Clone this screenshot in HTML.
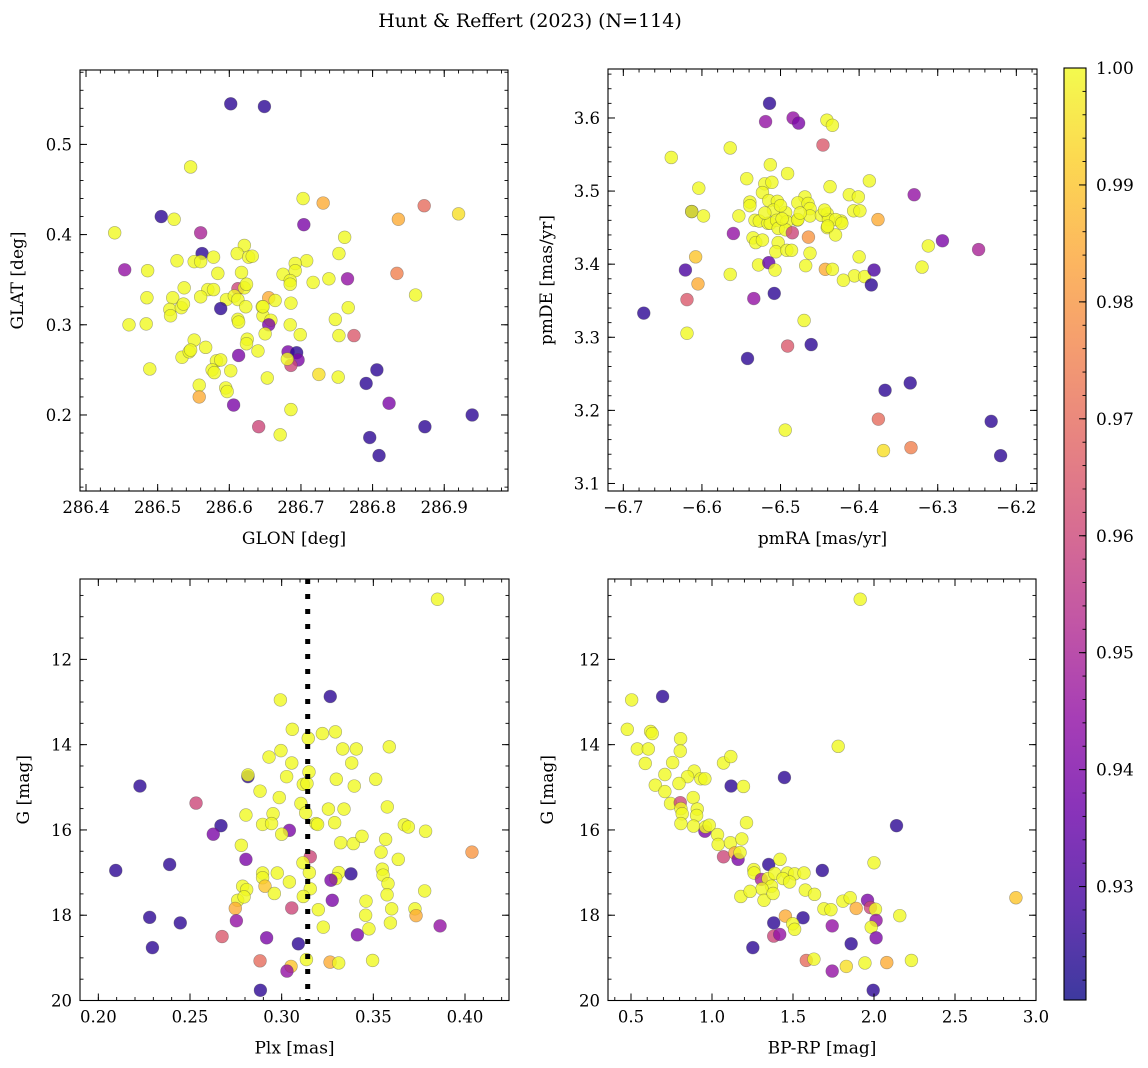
<!DOCTYPE html>
<html><head><meta charset="utf-8"><title>Hunt & Reffert (2023)</title>
<style>
html,body{margin:0;padding:0;background:#fff;}
svg{display:block;font-family:"DejaVu Serif","Liberation Serif",serif;}
</style></head>
<body>
<svg id="fig" width="1148" height="1068" viewBox="0 0 1148 1068" xmlns="http://www.w3.org/2000/svg">
<defs>
<linearGradient id="plasma" x1="0" y1="1" x2="0" y2="0">
<stop offset="0" stop-color="#0d0887"/><stop offset="0.1" stop-color="#41049d"/><stop offset="0.2" stop-color="#6a00a8"/><stop offset="0.3" stop-color="#8f0da4"/><stop offset="0.4" stop-color="#b12a90"/><stop offset="0.5" stop-color="#cc4778"/><stop offset="0.6" stop-color="#e16462"/><stop offset="0.7" stop-color="#f2844b"/><stop offset="0.8" stop-color="#fca636"/><stop offset="0.9" stop-color="#fcce25"/><stop offset="1" stop-color="#f0f921"/>
</linearGradient>
</defs>
<text x="530" y="27" text-anchor="middle" font-size="19" fill="#000">Hunt &amp; Reffert (2023) (N=114)</text>
</svg>
<script>
// ---- Panel 1: GLON vs GLAT ----
const glon1=[286.602,286.649,286.546,286.703,286.731,286.872,286.920,286.836,286.505,286.523,
286.704,286.440,286.560,286.761,286.621,286.562,286.611,286.627,286.632,286.753,
286.578,286.527,286.551,286.560,286.708,286.692,286.454,286.486,286.584,286.617,
286.675,286.692,286.834,286.765,286.739,286.717,286.685,286.685,286.537,286.612,
286.621,286.624,286.570,286.578,286.485,286.521,286.560,286.596,286.607,286.612,
286.655,286.664,286.686,286.860,286.517,286.533,286.536,286.588,286.623,286.646,
286.766,286.518,286.647,286.658,286.612,286.613,286.460,286.484,286.655,286.685,
286.748,286.650,286.699,286.753,286.774,286.551,286.567,286.625,286.624,286.640,
286.534,286.544,286.546,286.613,286.682,286.694,286.696,286.686,286.681,286.582,
286.588,286.576,286.579,286.602,286.489,286.653,286.725,286.752,286.806,286.791,
286.558,286.595,286.597,286.558,286.606,286.823,286.686,286.939,286.641,286.873,
286.671,286.796,286.809,286.647];
const glat1=[.545,.542,.475,.440,.435,.432,.423,.417,.420,.417,
.411,.402,.402,.397,.388,.379,.379,.375,.376,.379,
.375,.371,.370,.370,.371,.368,.361,.360,.357,.358,
.356,.360,.357,.351,.351,.347,.349,.345,.341,.340,
.341,.345,.339,.339,.330,.330,.331,.328,.332,.328,
.330,.327,.324,.333,.317,.319,.323,.318,.320,.320,
.319,.310,.310,.305,.306,.303,.300,.301,.300,.300,
.306,.290,.289,.288,.288,.283,.275,.284,.279,.271,
.264,.270,.272,.266,.270,.269,.261,.255,.262,.260,
.261,.250,.247,.249,.251,.241,.245,.242,.250,.235,
.233,.230,.226,.220,.211,.213,.206,.200,.187,.187,
.178,.175,.155,.320];
const prob1=[.925,.925,1,1,.985,.97,.995,.985,.925,1,
.94,1,.95,1,1,.925,1,1,1,1,
1,1,1,1,1,1,.945,1,1,1,
1,1,.975,.945,1,1,1,1,1,.96,
1,1,1,1,1,1,1,1,1,1,
.985,1,1,1,1,1,1,.925,1,1,
1,1,1,1,1,1,1,1,.94,1,
1,1,1,1,.965,1,1,1,1,1,
1,1,1,.94,.94,.925,.94,.96,1,1,
1,1,1,1,1,1,.995,1,.925,.925,
1,1,1,.985,.94,.94,1,.925,.96,.925,
1,.925,.925,1];
const xticks1=["286.4","286.5","286.6","286.7","286.8","286.9"];
const yticks1=["0.2","0.3","0.4","0.5"];

// ---- Panel 2: pmRA vs pmDE ----
const pmra2=[-6.514,-6.519,-6.484,-6.477,-6.441,-6.434,-6.446,-6.639,-6.564,-6.513,
-6.491,-6.543,-6.520,-6.511,-6.387,-6.604,-6.437,-6.330,-6.523,-6.539,
-6.539,-6.515,-6.504,-6.509,-6.469,-6.478,-6.465,-6.4625,-6.4125,-6.401,
-6.407,-6.399,-6.613,-6.613,-6.598,-6.553,-6.4935,-6.4785,-6.4625,-6.448,-6.4405,
-6.439,-6.5325,-6.527,-6.516,-6.513,-6.505,-6.492,-6.478,-6.423,-6.430,
-6.422,-6.376,-6.503,-6.4935,-6.485,-6.4405,-6.430,-6.560,-6.535,-6.5315,
-6.523,-6.503,-6.4645,-6.506,-6.492,-6.486,-6.4625,-6.312,-6.294,-6.248,
-6.608,-6.528,-6.515,-6.507,-6.468,-6.443,-6.434,-6.400,-6.406,-6.420,
-6.393,-6.381,-6.3845,-6.320,-6.621,-6.564,-6.605,-6.619,-6.534,-6.508,
-6.674,-6.619,-6.470,-6.491,-6.461,-6.542,-6.335,-6.367,-6.3755,-6.232,
-6.494,-6.369,-6.334,-6.220,
-6.498,-6.475,-6.444,-6.440,-6.500,-6.520];
const pmde2=[3.620,3.595,3.600,3.593,3.597,3.590,3.563,3.546,3.559,3.536,
3.524,3.517,3.510,3.512,3.514,3.504,3.506,3.495,3.498,3.485,
3.480,3.487,3.486,3.474,3.492,3.484,3.483,3.476,3.495,3.492,
3.473,3.473,3.472,3.472,3.466,3.466,3.4705,3.4605,3.466,3.467,3.469,
3.461,3.460,3.459,3.456,3.456,3.460,3.458,3.461,3.459,3.461,
3.456,3.461,3.449,3.447,3.443,3.450,3.440,3.442,3.436,3.4295,
3.433,3.4295,3.437,3.417,3.419,3.419,3.415,3.425,3.432,3.420,
3.410,3.399,3.402,3.392,3.398,3.393,3.393,3.410,3.384,3.378,
3.383,3.392,3.3716,3.396,3.392,3.386,3.373,3.3515,3.353,3.360,
3.333,3.3055,3.323,3.288,3.290,3.271,3.2375,3.2275,3.188,3.185,
3.173,3.145,3.149,3.138,
3.462,3.470,3.474,3.452,3.480,3.470];
const prob2=[.925,.945,.945,.94,1,1,.965,1,1,1,
1,1,1,1,1,1,1,.945,1,1,
1,1,1,1,1,1,1,1,1,1,
1,1,.925,1,1,1,1,1,1,1,1,
1,1,1,1,1,1,1,1,1,1,
1,.985,1,1,.96,1,1,.945,1,1,
1,1,.98,1,1,1,1,1,.94,.95,
.99,1,.935,1,1,.985,1,1,1,1,
1,.93,.925,1,.93,1,.985,.965,.945,.925,
.925,1,1,.965,.925,.925,.925,.925,.97,.925,
1,.995,.975,.925,
1,1,1,1,1,1];
const xticks2=["−6.7","−6.6","−6.5","−6.4","−6.3","−6.2"];
const yticks2=["3.1","3.2","3.3","3.4","3.5","3.6"];

// ---- Panel 3: Plx vs G ----
const plx3=[.385,.2993,.3265,.3058,.3145,.3222,.3293,.3587,.2931,.2996,
.3333,.3407,.3055,.3382,.2816,.2816,.3027,.3149,.3118,.3138,
.3298,.3513,.3396,.2227,.2882,.2987,.2533,.3105,.3131,.3255,
.3340,.3576,.2805,.2953,.2896,.2945,.3187,.3196,.3289,.2669,
.2627,.3042,.3000,.3669,.3691,.3785,.3322,.3391,.3438,.3567,
.2780,.3542,.3636,.3156,.3116,.2805,.4038,.2095,.2389,.2896,
.2896,.2976,.3151,.3311,.3295,.3269,.3378,.3549,.3553,.3580,
.3042,.2909,.2787,.2809,.2960,.3156,.3118,.3575,.3780,.2760,
.2795,.3276,.3460,.2747,.3055,.3200,.3600,.3727,.3733,.3458,
.3593,.2280,.2447,.2753,.3227,.3476,.3864,.2675,.2918,.3091,
.3413,.2295,.2882,.3051,.3029,.3135,.3264,.3311,.3496,.2884];
const g3=[10.59,12.95,12.87,13.64,13.85,13.74,13.70,14.05,14.29,14.14,
14.10,14.10,14.43,14.43,14.75,14.71,14.75,14.64,14.93,14.91,
14.81,14.81,14.97,14.97,15.09,15.24,15.37,15.38,15.60,15.51,
15.51,15.46,15.65,15.62,15.87,15.85,15.85,15.87,15.83,15.90,
16.10,16.01,16.10,15.88,15.93,16.03,16.30,16.32,16.15,16.22,
16.36,16.52,16.69,16.63,16.77,16.69,16.52,16.95,16.81,17.01,
17.12,17.01,17.00,17.00,17.14,17.18,17.03,16.92,17.06,17.26,
17.22,17.32,17.32,17.40,17.49,17.38,17.56,17.52,17.43,17.65,
17.57,17.65,17.67,17.84,17.83,17.87,17.85,17.85,18.01,18.00,
18.18,18.05,18.18,18.13,18.28,18.32,18.25,18.50,18.53,18.67,
18.46,18.76,19.07,19.20,19.31,19.04,19.10,19.12,19.06,19.76];
const prob3=[1,1,.925,1,1,1,1,1,1,1,
1,1,1,1,.925,1,1,1,1,1,
1,1,1,.925,1,1,.96,1,1,1,
1,1,1,1,1,1,1,1,1,.925,
.94,.94,1,1,1,1,1,1,1,1,
1,1,1,.96,1,.94,.98,.925,.925,1,
1,1,1,1,1,.94,.925,1,1,1,
1,.99,1,1,1,1,1,1,1,1,
1,.94,1,.985,.96,1,1,1,.985,1,
1,.925,.925,.945,1,1,.945,.965,.94,.925,
.94,.925,.97,.99,.945,1,.985,1,1,.925];
const plxRef=[0.3142];
const xticks3=["0.20","0.25","0.30","0.35","0.40"];
const yticksG=["12","14","16","18","20"];

// ---- Panel 4: BP-RP vs G ----
const bprp4=[1.915,0.504,0.695,0.477,0.621,0.631,0.806,0.539,0.607,0.804,
0.588,0.757,1.071,1.116,1.779,0.709,0.890,0.849,0.931,0.956,
0.796,1.447,1.118,1.194,0.650,0.709,0.884,0.744,0.804,0.808,
0.816,0.909,0.905,0.808,0.886,0.956,0.960,0.983,1.034,1.038,
1.213,1.114,1.184,1.071,1.141,1.161,1.173,1.350,1.420,1.681,
2.000,2.139,1.258,1.260,1.305,1.346,1.387,1.465,1.510,1.568,
1.438,1.479,1.367,1.309,1.178,1.235,1.321,1.377,1.576,1.633,
1.808,1.853,1.960,1.978,2.009,1.890,1.691,1.734,2.876,2.159,
1.453,1.562,1.498,1.510,1.381,1.381,1.418,1.742,2.013,1.983,
2.013,1.859,1.252,1.582,1.629,1.742,1.829,1.944,2.079,2.231,
1.995];
const g4=[10.59,12.95,12.87,13.64,13.69,13.74,13.86,14.10,14.10,14.15,
14.44,14.42,14.43,14.28,14.04,14.70,14.62,14.75,14.80,14.80,
14.91,14.77,14.97,14.98,14.95,15.10,15.24,15.38,15.36,15.50,
15.62,15.51,15.66,15.85,15.91,16.03,15.93,15.89,16.11,16.34,
15.83,16.30,16.21,16.63,16.54,16.69,16.53,16.81,16.69,16.95,
16.77,15.90,16.93,17.01,17.16,17.14,17.02,17.01,17.03,17.01,
17.14,17.22,17.32,17.38,17.56,17.44,17.65,17.49,17.41,17.51,
17.67,17.59,17.65,17.82,17.86,17.84,17.85,17.87,17.59,18.01,
18.02,18.06,18.20,18.33,18.18,18.49,18.45,18.25,18.12,18.28,
18.53,18.67,18.76,19.06,19.03,19.31,19.20,19.12,19.11,19.06,
19.76];
const prob4=[1,1,.925,1,1,1,1,1,1,1,
1,1,1,1,1,1,1,1,1,1,
1,.925,.925,1,1,1,1,1,.96,1,
1,1,1,1,1,.94,1,1,1,1,
1,1,1,.96,.985,.94,1,.925,1,.925,
1,.925,1,1,.95,1,1,1,1,1,
1,1,1,1,1,1,1,1,1,1,
1,1,.94,.96,1,.985,1,1,.99,1,
.985,.925,1,1,.925,.96,.945,.945,.945,1,
.94,.925,.925,.97,1,.945,.995,1,.985,1,
.925];
const xticks4=["0.5","1.0","1.5","2.0","2.5","3.0"];
const cbTicks=["0.93","0.94","0.95","0.96","0.97","0.98","0.99","1.00"];

const NS="http://www.w3.org/2000/svg";
const svg=document.getElementById('fig');
const VMIN=0.9203, VMAX=1.0;
const stops=[[13,8,135],[65,4,157],[106,0,168],[143,13,164],[177,42,144],[204,71,120],[225,100,98],[242,132,75],[252,166,54],[252,206,37],[240,249,33]];
function plasma(v){
  let t=(v-VMIN)/(VMAX-VMIN); t=Math.max(0,Math.min(1,t));
  const f=t*10, i=Math.min(9,Math.floor(f)), r=f-i;
  const a=stops[i], b=stops[i+1];
  return 'rgb('+a.map((c,k)=>Math.round(c+(b[k]-c)*r)).join(',')+')';
}
function el(tag,attrs,parent){
  const e=document.createElementNS(NS,tag);
  for(const k in attrs) e.setAttribute(k,attrs[k]);
  (parent||svg).appendChild(e); return e;
}
function scale(d0,d1,p0,p1){return v=>p0+(v-d0)*(p1-p0)/(d1-d0);}

function panel(o){
  const g=el('g',{});
  
  
  const sx=scale(o.xd[0],o.xd[1],o.px[0],o.px[1]);
  const sy=scale(o.yd[0],o.yd[1],o.py[0],o.py[1]);
  const pg=el('g',{},g);
  
  
  const n=Math.min(o.x.length,o.y.length,o.c.length);
  for(let i=0;i<n;i++){
    const c=el('circle',{cx:sx(o.x[i]).toFixed(2),cy:sy(o.y[i]).toFixed(2),r:6.4,fill:plasma(o.c[i]),'fill-opacity':0.8,stroke:'rgba(70,70,70,0.45)','stroke-width':0.6},pg);
    
    
  }
  if(o.extra) o.extra(g,sx,sy);
  const fr=el('rect',{x:o.px[0],y:Math.min(o.py[0],o.py[1]),width:o.px[1]-o.px[0],height:Math.abs(o.py[1]-o.py[0]),fill:'none',stroke:'#000','stroke-width':1.1},g);
  
  
  const top=Math.min(o.py[0],o.py[1]), bot=Math.max(o.py[0],o.py[1]);
  const xl=el('g',{},g);
  
  
  for(let v=o.xMinorStart; v<=o.xd[1]+1e-9; v+=o.xMinor){
    const X=sx(v); if(X<o.px[0]-0.5||X>o.px[1]+0.5) continue;
    el('line',{x1:X,y1:bot,x2:X,y2:bot-3.5,stroke:'#000','stroke-width':0.9},xl);
    el('line',{x1:X,y1:top,x2:X,y2:top+3.5,stroke:'#000','stroke-width':0.9},xl);
  }
  o.xt.forEach(lbl=>{
    const v=parseFloat(lbl.replace('−','-')), X=sx(v);
    el('line',{x1:X,y1:bot,x2:X,y2:bot-7,stroke:'#000','stroke-width':1},xl);
    el('line',{x1:X,y1:top,x2:X,y2:top+7,stroke:'#000','stroke-width':1},xl);
    const t=el('text',{x:X,y:bot+22,'text-anchor':'middle','font-size':16.5},xl);
    t.textContent=lbl;
    
    
  });
  const xt=el('text',{x:(o.px[0]+o.px[1])/2,y:bot+53,'text-anchor':'middle','font-size':17},g);
  xt.textContent=o.xlabel;
  
  
  const yl=el('g',{},g);
  
  
  const yhi=Math.max(o.yd[0],o.yd[1]);
  for(let v=o.yMinorStart; v<=yhi+1e-9; v+=o.yMinor){
    const Y=sy(v); if(Y<top-0.5||Y>bot+0.5) continue;
    el('line',{x1:o.px[0],y1:Y,x2:o.px[0]+3.5,y2:Y,stroke:'#000','stroke-width':0.9},yl);
    el('line',{x1:o.px[1],y1:Y,x2:o.px[1]-3.5,y2:Y,stroke:'#000','stroke-width':0.9},yl);
  }
  o.yt.forEach(lbl=>{
    const v=parseFloat(lbl), Y=sy(v);
    el('line',{x1:o.px[0],y1:Y,x2:o.px[0]+7,y2:Y,stroke:'#000','stroke-width':1},yl);
    el('line',{x1:o.px[1],y1:Y,x2:o.px[1]-7,y2:Y,stroke:'#000','stroke-width':1},yl);
    const t=el('text',{x:o.px[0]-8,y:Y+6,'text-anchor':'end','font-size':16.5},yl);
    t.textContent=lbl;
    
    
  });
  const cy=(top+bot)/2;
  const yt=el('text',{x:0,y:0,'text-anchor':'middle','font-size':17,transform:'translate('+o.ylabelX+','+cy+') rotate(-90)'},g);
  yt.textContent=o.ylabel;
  
  
}

panel({name:'glon-glat-panel',x:glon1,y:glat1,c:prob1,xd:[286.3916,286.989],px:[80,508],yd:[0.1157,0.5825],py:[491,70],
  xt:xticks1,yt:yticks1,xMinor:0.02,xMinorStart:286.4,yMinor:0.02,yMinorStart:0.12,xlabel:'GLON [deg]',ylabel:'GLAT [deg]',ylabelX:23});
panel({name:'pmra-pmde-panel',x:pmra2,y:pmde2,c:prob2,xd:[-6.7195,-6.1737],px:[608,1037],yd:[3.0897,3.667],py:[491,69],
  xt:xticks2,yt:yticks2,xMinor:0.02,xMinorStart:-6.70,yMinor:0.02,yMinorStart:3.10,xlabel:'pmRA [mas/yr]',ylabel:'pmDE [mas/yr]',ylabelX:552});
panel({name:'plx-g-panel',x:plx3,y:g3,c:prob3,xd:[0.19,0.424],px:[80,509],yd:[10.115,20.0],py:[579,1000.5],
  xt:xticks3,yt:yticksG,xMinor:0.01,xMinorStart:0.19,yMinor:0.5,yMinorStart:10.5,xlabel:'Plx [mas]',ylabel:'G [mag]',ylabelX:29,
  extra:(g,sx,sy)=>{
    const l=el('line',{x1:sx(plxRef[0]),y1:579,x2:sx(plxRef[0]),y2:1001,stroke:'#000','stroke-width':5,'stroke-dasharray':'5,10'},g);
    
    
  }});
panel({name:'cmd-panel',x:bprp4,y:g4,c:prob4,xd:[0.358,3.0],px:[608,1036],yd:[10.115,20.0],py:[579,1000.5],
  xt:xticks4,yt:yticksG,xMinor:0.1,xMinorStart:0.4,yMinor:0.5,yMinorStart:10.5,xlabel:'BP-RP [mag]',ylabel:'G [mag]',ylabelX:553});

const cb=el('g',{});


const cbS=scale(VMIN,VMAX,1000,68);
el('rect',{x:1064,y:68,width:22,height:932,fill:'url(#plasma)','fill-opacity':0.8},cb);
el('rect',{x:1064,y:68,width:22,height:932,fill:'none',stroke:'#000','stroke-width':1.1},cb);
for(let v=0.922; v<VMAX-1e-6; v+=0.002){
  const Y=cbS(v);
  el('line',{x1:1086,y1:Y,x2:1082.5,y2:Y,stroke:'#000','stroke-width':0.9},cb);
}
cbTicks.forEach(lbl=>{
  const Y=cbS(parseFloat(lbl));
  el('line',{x1:1086,y1:Y,x2:1079,y2:Y,stroke:'#000','stroke-width':1},cb);
  const t=el('text',{x:1096,y:Y+6,'font-size':17},cb);
  t.textContent=lbl;
  
  
});
</script>
</body></html>
